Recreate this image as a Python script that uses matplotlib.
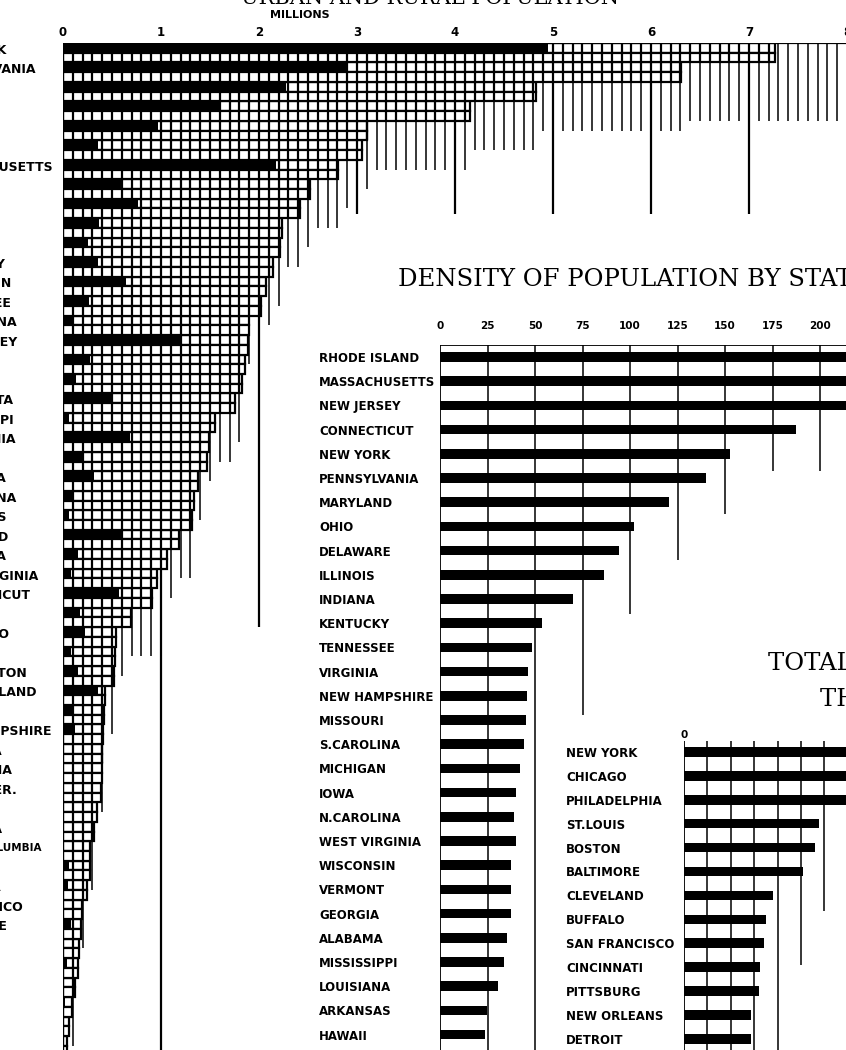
import numpy as np
import matplotlib.pyplot as plt

# population of states and territories, 1900 (millions): total and urban (black part)
states = ["NEW YORK", "PENNSYLVANIA", "ILLINOIS", "OHIO", "MISSOURI", "TEXAS",
          "MASSACHUSETTS", "INDIANA", "MICHIGAN", "IOWA", "GEORGIA", "KENTUCKY",
          "WISCONSIN", "TENNESSEE", "N.CAROLINA", "NEW JERSEY", "VIRGINIA",
          "ALABAMA", "MINNESOTA", "MISSISSIPPI", "CALIFORNIA", "KANSAS",
          "LOUISIANA", "S.CAROLINA", "ARKANSAS", "MARYLAND", "NEBRASKA",
          "WEST VIRGINIA", "CONNECTICUT", "MAINE", "COLORADO", "FLORIDA",
          "WASHINGTON", "RHODE ISLAND", "OREGON", "NEW HAMPSHIRE", "S.DAKOTA",
          "OKLAHOMA", "INDIAN TER.", "VERMONT", "N.DAKOTA", "DIST.OF COLUMBIA",
          "UTAH", "MONTANA", "NEW MEXICO", "DELAWARE", "IDAHO", "HAWAII",
          "ARIZONA", "WYOMING", "ALASKA", "NEVADA"]
total_m = [7.269, 6.302, 4.822, 4.158, 3.107, 3.049, 2.805, 2.516, 2.421, 2.232,
           2.216, 2.147, 2.069, 2.021, 1.894, 1.884, 1.854, 1.829, 1.751, 1.551,
           1.485, 1.470, 1.382, 1.340, 1.312, 1.188, 1.066, 0.959, 0.908, 0.694,
           0.540, 0.529, 0.518, 0.429, 0.414, 0.412, 0.402, 0.398, 0.392, 0.344,
           0.319, 0.279, 0.277, 0.243, 0.195, 0.185, 0.162, 0.154, 0.123, 0.093,
           0.064, 0.042]
urban_m = [4.95, 2.90, 2.28, 1.61, 0.97, 0.36, 2.17, 0.61, 0.77, 0.37,
           0.26, 0.36, 0.64, 0.27, 0.10, 1.20, 0.28, 0.13, 0.49, 0.06,
           0.68, 0.20, 0.32, 0.11, 0.06, 0.59, 0.15, 0.08, 0.57, 0.17,
           0.22, 0.08, 0.15, 0.36, 0.09, 0.12, 0.0, 0.0, 0.0, 0.0,
           0.0, 0.0, 0.06, 0.05, 0.0, 0.08, 0.0, 0.04, 0.0, 0.02,
           0.0, 0.0]

# density of population (persons per square mile)
dens_states = ["RHODE ISLAND", "MASSACHUSETTS", "NEW JERSEY", "CONNECTICUT",
               "NEW YORK", "PENNSYLVANIA", "MARYLAND", "OHIO", "DELAWARE",
               "ILLINOIS", "INDIANA", "KENTUCKY", "TENNESSEE", "VIRGINIA",
               "NEW HAMPSHIRE", "MISSOURI", "S.CAROLINA", "MICHIGAN", "IOWA",
               "N.CAROLINA", "WEST VIRGINIA", "WISCONSIN", "VERMONT", "GEORGIA",
               "ALABAMA", "MISSISSIPPI", "LOUISIANA", "ARKANSAS", "HAWAII"]
density = [407.0, 348.9, 250.3, 187.5, 152.6, 140.1, 120.5, 102.1, 94.3, 86.1,
           70.1, 53.7, 48.4, 46.2, 45.7, 45.2, 44.4, 42.2, 40.2, 39.0, 39.9,
           37.4, 37.6, 37.6, 35.5, 33.5, 30.4, 24.7, 23.6]

# total population of the largest cities (thousands)
cities = ["NEW YORK", "CHICAGO", "PHILADELPHIA", "ST.LOUIS", "BOSTON", "BALTIMORE",
          "CLEVELAND", "BUFFALO", "SAN FRANCISCO", "CINCINNATI", "PITTSBURG",
          "NEW ORLEANS", "DETROIT"]
city_pop_k = [3437.2, 1698.6, 1293.7, 575.2, 560.9, 509.0, 381.8, 352.4, 342.8,
              325.9, 321.6, 287.1, 285.7]

W, H = 846, 1050
fig = plt.figure(figsize=(W / 100, H / 100), dpi=100)
SERIF = dict(family="DejaVu Serif", fontsize=17.5)


def box(x0, y0, x1, y1):
    # axes placed by pixel box (top-left origin)
    ax = fig.add_axes([x0 / W, 1 - y1 / H, (x1 - x0) / W, (y1 - y0) / H])
    ax.patch.set_alpha(0)
    for s in ax.spines.values():
        s.set_visible(False)
    ax.tick_params(length=0)
    return ax


def left_labels(ax, pos, names, pad_px, size=8.5):
    ax.set_yticks(pos, names, fontsize=size, fontweight="bold")
    for t in ax.get_yticklabels():
        t.set_ha("left")
    ax.tick_params(axis="y", pad=pad_px * 0.72)


# ---- population by states (millions) ----
ax = box(63, 43, 63 + 98 * 8.1, 1050)
n = len(states)
rows = np.arange(n)
bottom = (1050 - 43) / 19.47
ax.set_xlim(0, 8.1)
ax.set_ylim(bottom, 0)
total = np.array(total_m)

# hanging column lines every 100,000
major_end = {1: bottom, 2: 30.0}
for k in range(1, 82):
    v = round(k * 0.1, 1)
    reach = (total > v).sum()
    if k % 10 == 0:
        ax.vlines(v, 0, major_end.get(k // 10, 8.8), color="black", lw=1.6, zorder=1)
    else:
        ax.vlines(v, 0, max(reach + 2.5, 4.0), color="black", lw=1.1, zorder=1)
ax.hlines(0, 0, 8.1, color="black", lw=1.6, zorder=4)
ax.vlines(0, 0, bottom, color="black", lw=1.6, zorder=4)

# cells: two sub-rows per state, dividers every 0.1 million
ax.barh(rows + 0.25, total, height=0.5, color="white", edgecolor="black", lw=1.6, zorder=2)
ax.barh(rows + 0.75, total, height=0.5, color="white", edgecolor="black", lw=1.6, zorder=2)
xs, y0s, y1s = [], [], []
for i, t in enumerate(total):
    for v in np.arange(0.1, t, 0.1):
        xs.append(v)
        y0s.append(i)
        y1s.append(i + 1)
ax.vlines(xs, y0s, y1s, color="black", lw=1.6, zorder=2.5)
ax.barh(rows + 0.25, urban_m, height=0.5, color="black", lw=0, zorder=3)

ax.xaxis.tick_top()
ax.set_xticks(range(9), [str(v) for v in range(9)], fontsize=8.5, fontweight="bold")
ax.tick_params(axis="x", pad=3)
left_labels(ax, rows + 0.3, states, 63 + 69, size=9)
ax.get_yticklabels()[states.index("DIST.OF COLUMBIA")].set_fontsize(7.5)
fig.text(300 / W, 1 - 15 / H, "MILLIONS", ha="center", va="center",
         fontsize=8, fontweight="bold")
fig.text(430 / W, 1 - 4 / H, "URBAN AND RURAL POPULATION", ha="center",
         va="baseline", family="DejaVu Serif", fontsize=15)

# ---- density of population by states ----
fig.text(398 / W, 1 - 280 / H, "DENSITY OF POPULATION BY STATES", ha="left",
         va="center", **SERIF)
dx = box(440, 345, 846, 1050)
drows = np.arange(len(dens_states))
dbot = (1050 - 357) / 24.2
dtop = (345 - 357) / 24.2
dx.set_xlim(0, 406 / 1.9)
dx.set_ylim(dbot, dtop)
dx.barh(drows, density, height=0.4, color="black", zorder=3)
dx.hlines(dtop, 0, 406 / 1.9, color="black", lw=1.3)
dx.vlines(0, dtop, dbot, color="black", lw=1.3)
grid_v = [25, 50, 75, 100, 125, 150, 175, 200]
grid_end = [dbot, dbot, 14.8, 10.6, 8.4, 6.5, 4.7, 4.7]
dx.vlines(grid_v, dtop, grid_end, color="black", lw=1.1, zorder=1)
dx.xaxis.tick_top()
dx.set_xticks([0] + grid_v, [str(v) for v in [0] + grid_v], fontsize=7.5,
              fontweight="bold")
dx.tick_params(axis="x", pad=10)
left_labels(dx, drows, dens_states, 440 - 319)

# ---- total population of the largest cities ----
fig.text(768 / W, 1 - 663 / H, "TOTAL POPULATION OF", ha="left", va="center", **SERIF)
fig.text(820 / W, 1 - 700 / H, "THE LARGEST CITIES", ha="left", va="center", **SERIF)
cx = box(684, 741, 846, 1050)
crows = np.arange(len(cities))
cbot = (1050 - 752) / 23.9
ctop = (741 - 752) / 23.9
cx.set_xlim(0, 162 / 0.234)
cx.set_ylim(cbot, ctop)
cx.barh(crows, city_pop_k, height=0.4, color="black", zorder=3)
cx.vlines(0, ctop, cbot, color="black", lw=1.3)
cgrid_v = [100, 200, 300, 400, 500, 600]
cgrid_end = [cbot, cbot, cbot, cbot, 8.9, 6.65]
cx.vlines(cgrid_v, ctop, cgrid_end, color="black", lw=1.1, zorder=1)
cx.xaxis.tick_top()
cx.set_xticks([0], ["0"], fontsize=7.5, fontweight="bold")
cx.tick_params(axis="x", pad=1)
left_labels(cx, crows, cities, 684 - 566)

fig.savefig("out.png", dpi=100)
